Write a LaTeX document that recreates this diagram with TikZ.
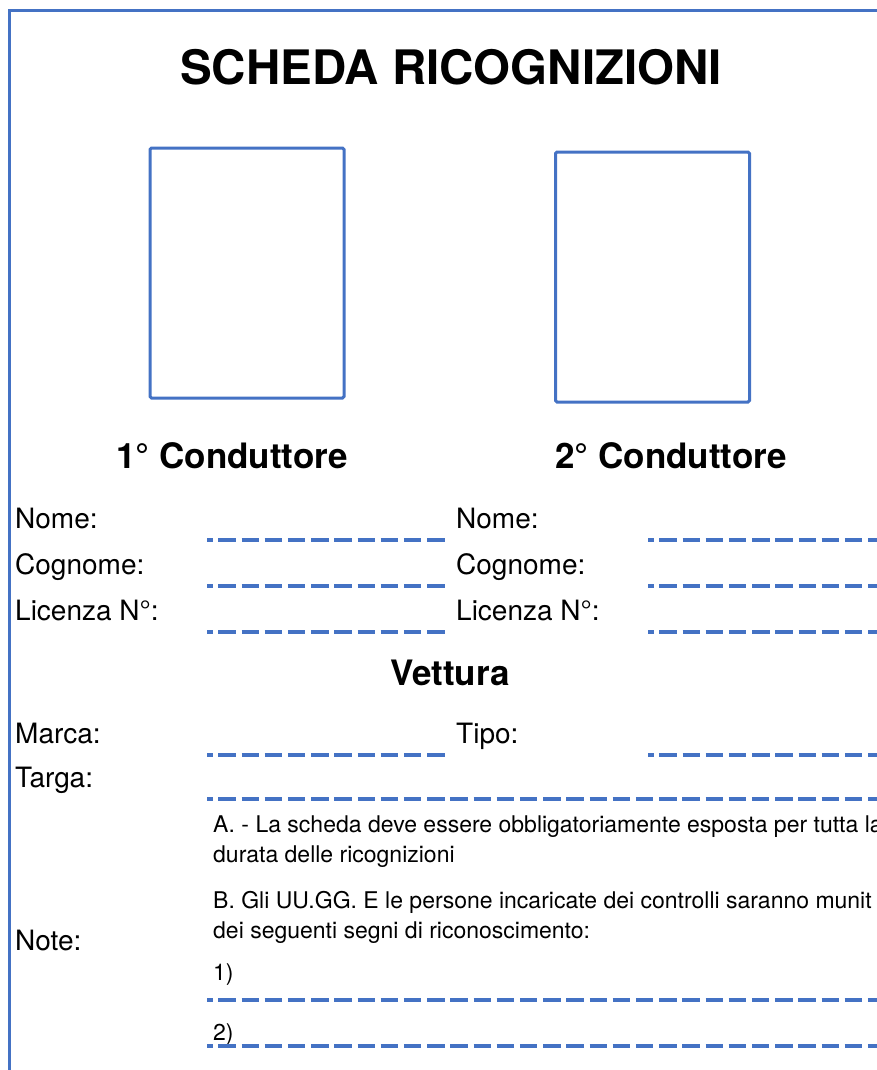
\documentclass[tikz,border=0pt]{standalone}
\usepackage{fontspec}
\setmainfont{TeX Gyre Heros}
\usepackage{xcolor}
\usepackage{tikz}
\usetikzlibrary{positioning}

\definecolor{formblue}{HTML}{4472C4}

\tikzset{
  frame/.style={draw=formblue, line width=2.5pt},
  photobox/.style={draw=formblue, line width=3pt, rounded corners=1.5pt,
    minimum width=194pt, minimum height=250pt, inner sep=0pt},
  heading/.style={font=\fontsize{35}{42}\selectfont\bfseries, inner sep=0pt, anchor=base},
  fieldname/.style={font=\fontsize{28}{34}\selectfont, inner sep=0pt, anchor=base west},
  notetext/.style={font=\fontsize{23}{27}\selectfont, inner sep=0pt, anchor=base west},
  fillline/.style={draw=formblue, line width=3.5pt,
    dash pattern=on 17.5pt off 5.7pt, dash phase=11.9pt}
}

\begin{document}
\begin{tikzpicture}[x=1pt, y=-1pt]
	\useasboundingbox (0,0) rectangle (877,1070);
	\clip (0,0) rectangle (877,1070);

	% page border
	\coordinate (bl) at (9.5,1080);
	\coordinate (tl) at (9.5,10.5);
	\coordinate (tr) at (890,10.5);
	\draw[frame] (bl) -- (tl) -- (tr);

	\node[font=\fontsize{47.5}{56}\selectfont\bfseries, inner sep=0pt, anchor=base] (title) at (451,85) {SCHEDA RICOGNIZIONI};

	% photos
	\node[photobox] (photoA) at (247,273) {};
	\node[photobox] (photoB) at (652.5,277) {};
	\node[heading] (drvA) at (232,468) {1° Conduttore};
	\node[heading] (drvB) at (671,468) {2° Conduttore};

	% drivers
	\foreach \name/\base [count=\i] in {Nome:/528, Cognome:/574, Licenza N°:/620} {
		\node[fieldname] (nameA\i) at (15,\base) {\name};
		\node[fieldname] (nameB\i) at (456,\base) {\name};
		\coordinate (lineA\i s) at (207,\base+12);
		\coordinate (lineA\i e) at (445.5,\base+12);
		\coordinate (lineB\i s) at (648,\base+12);
		\coordinate (lineB\i e) at (890,\base+12);
		\draw[fillline] (lineA\i s) -- (lineA\i e);
		\draw[fillline] (lineB\i s) -- (lineB\i e);
	}

	% car
	\node[heading] (car) at (450,685) {Vettura};
	\node[fieldname] (marca) at (15,743) {Marca:};
	\node[fieldname] (tipo) at (456,743) {Tipo:};
	\node[fieldname] (targa) at (15,787) {Targa:};
	\coordinate (marcaS) at (207,755);
	\coordinate (marcaE) at (445.5,755);
	\coordinate (tipoS) at (648,755);
	\coordinate (tipoE) at (890,755);
	\coordinate (targaS) at (207,799);
	\coordinate (targaE) at (890,799);
	\draw[fillline] (marcaS) -- (marcaE);
	\draw[fillline] (tipoS) -- (tipoE);
	\draw[fillline] (targaS) -- (targaE);

	% notes
	\node[fieldname] (note) at (15,950) {Note:};
	\node[notetext] (noteA1) at (213,832) {A. - La scheda deve essere obbligatoriamente esposta per tutta la};
	\node[notetext] (noteA2) at (213,862) {durata delle ricognizioni};
	\node[notetext] (noteB1) at (213,908) {B. Gli UU.GG. E le persone incaricate dei controlli saranno munit};
	\node[notetext] (noteB2) at (213,938) {dei seguenti segni di riconoscimento:};
	\node[notetext] (item1) at (213,980) {1)};
	\node[notetext] (item2) at (213,1040) {2)};
	\coordinate (itemAS) at (207,1000);
	\coordinate (itemAE) at (890,1000);
	\coordinate (itemBS) at (207,1046);
	\coordinate (itemBE) at (890,1046);
	\draw[fillline] (itemAS) -- (itemAE);
	\draw[fillline] (itemBS) -- (itemBE);
\end{tikzpicture}
\end{document}
